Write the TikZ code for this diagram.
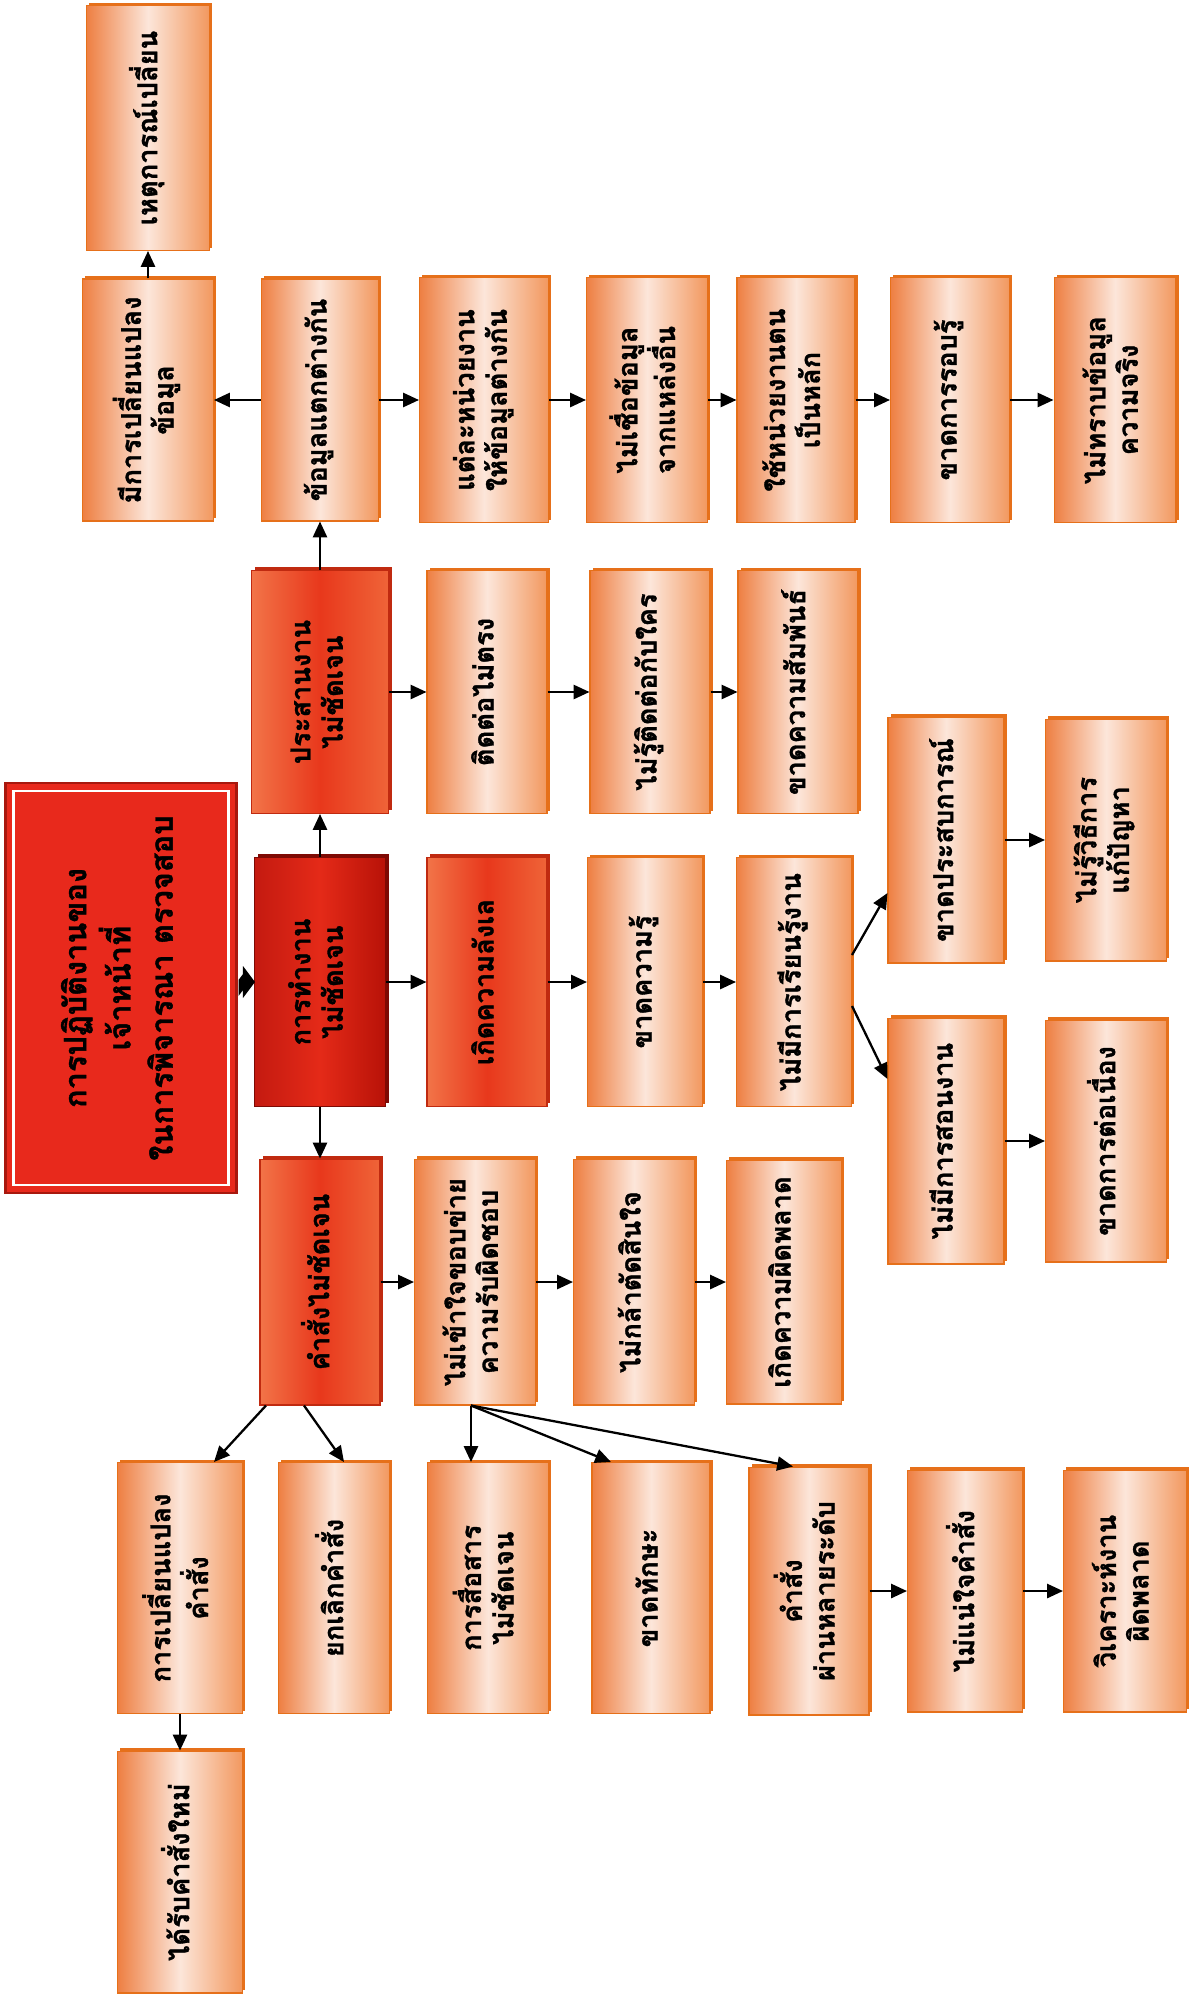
\documentclass[tikz,border=0pt]{standalone}
\usepackage{fontspec}
\usepackage{graphicx}
\newfontfamily\thaifont[Script=Thai, BoldFeatures={FakeBold=1.2}]{Loma}
\usetikzlibrary{arrows.meta,calc,shadows}
\definecolor{lA}{HTML}{EE7F42}
\definecolor{lB}{HTML}{FCE6DA}
\definecolor{lC}{HTML}{F2985F}
\definecolor{lD}{HTML}{E6701A}
\definecolor{rA}{HTML}{F27448}
\definecolor{rB}{HTML}{E8381C}
\definecolor{rC}{HTML}{EF6438}
\definecolor{rD}{HTML}{C02A10}
\definecolor{dA}{HTML}{C41A10}
\definecolor{dB}{HTML}{E42A18}
\definecolor{dC}{HTML}{B81208}
\definecolor{dD}{HTML}{7E0A04}
\definecolor{mainred}{HTML}{E8291C}
\definecolor{mainedge}{HTML}{A8180E}
\newcommand\vtext[1]{\rotatebox{90}{\begin{tabular}{@{}c@{}}#1\end{tabular}}}
\tikzset{
  base/.style={rectangle, inner sep=2pt, minimum width=2.4cm, minimum height=4.9cm,
    font=\thaifont\bfseries\fontsize{15.5}{18.5}\selectfont, text=black},
  lbox/.style={base, left color=lA, right color=lC, middle color=lB, draw=lD, line width=0.6pt,
    drop shadow={shadow xshift=1.6pt, shadow yshift=1.6pt, fill=lD, opacity=1}},
  rbox/.style={base, left color=rA, right color=rC, middle color=rB, draw=rD, line width=0.6pt,
    drop shadow={shadow xshift=1.8pt, shadow yshift=1.8pt, fill=rD, opacity=1}},
  dbox/.style={base, left color=dA, right color=dC, middle color=dB, draw=dD, line width=0.6pt,
    drop shadow={shadow xshift=2pt, shadow yshift=2pt, fill=dD, opacity=1}},
  mainbox/.style={rectangle, inner sep=2pt, fill=mainred, draw=mainedge, line width=1.2pt,
    font=\thaifont\bfseries\fontsize{17.5}{24}\selectfont, text=black},
  arr/.style={-{Triangle[length=9pt,width=8pt]}, line width=1.3pt, black},
  bigarr/.style={fill=black}
}
\begin{document}
\begin{tikzpicture}[x=0.02cm, y=-0.02cm]
\fill[white] (0,0) rectangle (1191,1997);
\useasboundingbox (0,0) rectangle (1191,1997);

% main
\node[mainbox, minimum width=4.62cm, minimum height=8.2cm] (main) at (121,988)
  {\vtext{การปฏิบัติงานของ\\เจ้าหน้าที่\\ในการพิจารณา ตรวจสอบ}};
\draw[white, line width=1.6pt] ($(main.north west)+(9,9)$) rectangle ($(main.south east)+(-9,-9)$);

% column 2
\node[rbox, minimum width=2.74cm, minimum height=4.86cm] (ps) at (320,692) {\vtext{ประสานงาน\\ไม่ชัดเจน}};
\node[dbox, minimum width=2.62cm, minimum height=4.98cm] (tw) at (320,982) {\vtext{การทำงาน\\ไม่ชัดเจน}};
\node[rbox, minimum width=2.4cm, minimum height=4.92cm] (ks) at (320,1282) {\vtext{คำสั่งไม่ชัดเจน}};

% top area
\node[lbox, minimum width=2.34cm, minimum height=4.84cm] (dd) at (320,400) {\vtext{ข้อมูลแตกต่างกัน}};
\node[lbox, minimum width=2.62cm, minimum height=4.84cm] (mc) at (148,400) {\vtext{มีการเปลี่ยนแปลง\\ข้อมูล}};
\node[lbox, minimum width=2.46cm, minimum height=4.9cm] (hc) at (148,128) {\vtext{เหตุการณ์เปลี่ยน}};
\node[lbox, minimum width=2.58cm] (t1) at (484,400) {\vtext{แต่ละหน่วยงาน\\ให้ข้อมูลต่างกัน}};
\node[lbox, minimum width=2.42cm] (t2) at (647,400) {\vtext{ไม่เชื่อข้อมูล\\จากแหล่งอื่น}};
\node[lbox, minimum width=2.36cm] (t3) at (796,400) {\vtext{ใช้หน่วยงานตน\\เป็นหลัก}};
\node[lbox, minimum width=2.38cm] (t4) at (950,400) {\vtext{ขาดการรอบรู้}};
\node[lbox, minimum width=2.44cm] (t5) at (1115,400) {\vtext{ไม่ทราบข้อมูล\\ความจริง}};

% row 2
\node[lbox, minimum height=4.86cm] (r1) at (487,692) {\vtext{ติดต่อไม่ตรง}};
\node[lbox, minimum height=4.86cm] (r2) at (650,692) {\vtext{ไม่รู้ติดต่อกับใคร}};
\node[lbox, minimum height=4.86cm] (r3) at (798,692) {\vtext{ขาดความสัมพันธ์}};

% row 3
\node[rbox, minimum height=4.98cm] (s1) at (487,982) {\vtext{เกิดความลังเล}};
\node[lbox, minimum width=2.3cm, minimum height=4.98cm] (s2) at (645,982) {\vtext{ขาดความรู้}};
\node[lbox, minimum width=2.3cm, minimum height=4.98cm] (s3) at (794,982) {\vtext{ไม่มีการเรียนรู้งาน}};
\node[lbox, minimum width=2.32cm, minimum height=4.92cm] (s4) at (946,840) {\vtext{ขาดประสบการณ์}};
\node[lbox, minimum width=2.32cm, minimum height=4.92cm] (s5) at (946,1141) {\vtext{ไม่มีการสอนงาน}};
\node[lbox, minimum width=2.42cm, minimum height=4.84cm] (s6) at (1106,840) {\vtext{ไม่รู้วิธีการ\\แก้ปัญหา}};
\node[lbox, minimum width=2.42cm, minimum height=4.84cm] (s7) at (1106,1141) {\vtext{ขาดการต่อเนื่อง}};

% row 4
\node[lbox, minimum width=2.42cm, minimum height=4.92cm] (u1) at (475,1282) {\vtext{ไม่เข้าใจขอบข่าย\\ความรับผิดชอบ}};
\node[lbox, minimum width=2.42cm, minimum height=4.92cm] (u2) at (634,1282) {\vtext{ไม่กล้าตัดสินใจ}};
\node[lbox, minimum width=2.3cm, minimum height=4.88cm] (u3) at (784,1282) {\vtext{เกิดความผิดพลาด}};

% bottom row
\node[lbox, minimum width=2.5cm, minimum height=5.02cm] (b1) at (180,1588) {\vtext{การเปลี่ยนแปลง\\คำสั่ง}};
\node[lbox, minimum width=2.22cm, minimum height=5.02cm] (b2) at (334,1588) {\vtext{ยกเลิกคำสั่ง}};
\node[lbox, minimum width=2.42cm, minimum height=5.02cm] (b3) at (488,1588) {\vtext{การสื่อสาร\\ไม่ชัดเจน}};
\node[lbox, minimum width=2.36cm, minimum height=5.02cm] (b4) at (651,1588) {\vtext{ขาดทักษะ}};
\node[lbox, minimum width=2.4cm, minimum height=4.96cm] (b5) at (809,1591) {\vtext{คำสั่ง\\ผ่านหลายระดับ}};
\node[lbox, minimum width=2.3cm, minimum height=4.84cm] (b6) at (965,1591) {\vtext{ไม่แน่ใจคำสั่ง}};
\node[lbox, minimum width=2.46cm, minimum height=4.84cm] (b7) at (1125,1591) {\vtext{วิเคราะห์งาน\\ผิดพลาด}};
\node[lbox, minimum width=2.5cm, minimum height=4.84cm] (b8) at (180,1872) {\vtext{ได้รับคำสั่งใหม่}};

% connectors
\fill[bigarr] ($(main.east)+(1,-8)$) -- ($(tw.west)+(-11,-8)$) -- ($(tw.west)+(-11,-16)$)
  -- ($(tw.west)+(1,0)$) -- ($(tw.west)+(-11,16)$) -- ($(tw.west)+(-11,8)$) -- ($(main.east)+(1,8)$) -- cycle;
\draw[arr] (tw.north) -- (ps.south);
\draw[arr] (tw.south) -- (ks.north);
\draw[arr] (ps.north) -- (dd.south);
\draw[arr] (dd.west) -- (mc.east);
\draw[arr] (mc.north) -- (hc.south);
\draw[arr] (dd.east) -- (t1.west);
\draw[arr] (t1.east) -- (t2.west);
\draw[arr] (t2.east) -- (t3.west);
\draw[arr] (t3.east) -- (t4.west);
\draw[arr] (t4.east) -- (t5.west);
\draw[arr] (ps.east) -- (r1.west);
\draw[arr] (r1.east) -- (r2.west);
\draw[arr] (r2.east) -- (r3.west);
\draw[arr] (tw.east) -- (s1.west);
\draw[arr] (s1.east) -- (s2.west);
\draw[arr] (s2.east) -- (s3.west);
\draw[arr] ($(s3.east)+(0,-27)$) -- ($(s4.west)+(0,53)$);
\draw[arr] ($(s3.east)+(0,24)$) -- ($(s5.west)+(0,-62)$);
\draw[arr] (s4.east) -- (s6.west);
\draw[arr] (s5.east) -- (s7.west);
\draw[arr] (ks.east) -- (u1.west);
\draw[arr] (u1.east) -- (u2.west);
\draw[arr] (u2.east) -- (u3.west);
\draw[arr] ($(ks.south)+(-54,0)$) -- ($(b1.north)+(34,0)$);
\draw[arr] ($(ks.south)+(-16,0)$) -- ($(b2.north)+(10,0)$);
\draw[arr] ($(u1.south)+(-4,0)$) -- ($(b3.north)+(-17,0)$);
\draw[arr] ($(u1.south)+(-4,0)$) -- ($(b4.north)+(-40,0)$);
\draw[arr] ($(u1.south)+(-4,0)$) -- ($(b5.north)+(-16,0)$);
\draw[arr] (b5.east) -- (b6.west);
\draw[arr] (b6.east) -- (b7.west);
\draw[arr] (b1.south) -- (b8.north);
\end{tikzpicture}
\end{document}
